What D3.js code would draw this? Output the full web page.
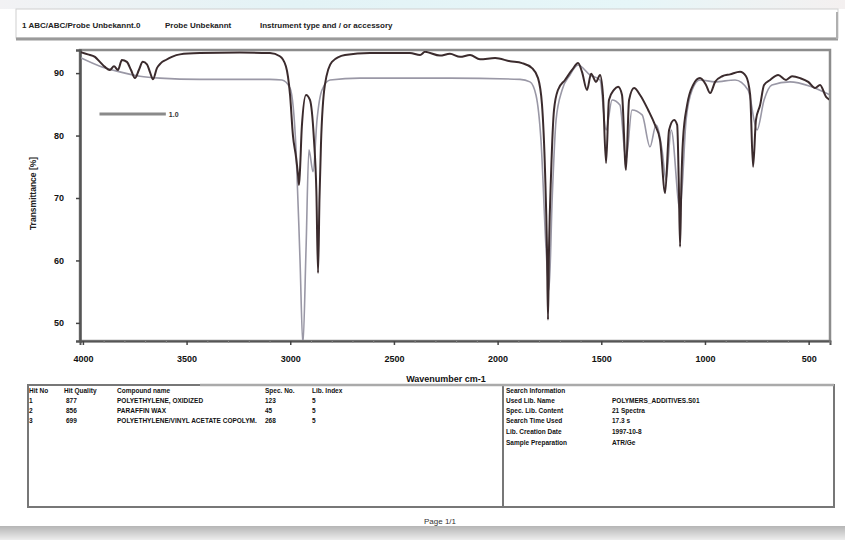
<!DOCTYPE html>
<html>
<head>
<meta charset="utf-8">
<script src="https://cdn.jsdelivr.net/npm/d3@7"></script>
<style>
  html, body { margin: 0; padding: 0; background: #fff; }
  svg { display: block; font-family: "Liberation Sans", "DejaVu Sans", sans-serif; }
</style>
</head>
<body>
<svg id="chart" width="845" height="540"></svg>
<script>
// ---- Spectrum data: [wavenumber cm-1, transmittance %] ----
const sampleSpectrum = [
  [4014, 93.4], [3976, 93.0], [3942, 92.6], [3918, 91.8], [3894, 91.0], [3870, 90.5],
  [3850, 91.1], [3831, 90.5], [3812, 92.1], [3788, 91.8], [3768, 90.5], [3749, 89.2],
  [3730, 90.5], [3711, 91.8], [3691, 91.4], [3677, 90.2], [3662, 89.0], [3643, 90.8],
  [3624, 91.6], [3600, 92.1], [3571, 92.6], [3532, 93.0], [3436, 93.2], [3243, 93.3],
  [3098, 93.2], [3050, 92.7], [3021, 91.1], [3001, 86.5], [2987, 80.0], [2972, 76.5],
  [2962, 73.5], [2958, 72.1], [2953, 74.5], [2944, 81.5], [2924, 86.5], [2905, 85.7],
  [2886, 79.5], [2874, 71.0], [2866, 58.0], [2859, 70.0], [2852, 78.5], [2833, 88.1],
  [2799, 91.8], [2736, 92.9], [2616, 93.2], [2423, 93.2],
  [2374, 92.9], [2350, 93.4], [2278, 92.8], [2230, 93.1], [2181, 92.6], [2133, 92.9],
  [2085, 92.2], [2012, 92.4], [1940, 91.9], [1882, 91.6], [1834, 90.8], [1805, 89.2],
  [1786, 85.0], [1771, 74.0], [1762, 62.0], [1757, 50.5], [1752, 62.0], [1742, 74.0],
  [1728, 84.1], [1709, 87.3],
  [1675, 88.9], [1641, 90.5], [1612, 91.6], [1593, 90.2], [1569, 87.3], [1549, 89.9],
  [1525, 88.6], [1506, 89.7], [1492, 86.5], [1477, 75.6], [1463, 85.7], [1439, 87.3],
  [1419, 87.8], [1400, 86.5], [1381, 74.5], [1366, 85.7], [1342, 87.6], [1313, 86.5],
  [1274, 84.1], [1241, 81.7], [1217, 79.3], [1192, 70.8], [1173, 80.9], [1149, 82.5],
  [1134, 81.7], [1126, 72.0], [1120, 62.2], [1114, 72.0], [1106, 79.3], [1086, 84.9],
  [1057, 88.1], [1024, 89.2],
  [995, 88.1], [975, 86.8], [951, 88.6], [917, 89.5], [879, 89.8], [831, 90.2],
  [802, 89.5], [782, 86.5], [768, 75.0], [754, 82.5], [734, 84.9], [715, 88.1],
  [686, 88.9], [647, 89.7], [609, 88.9], [580, 89.5], [541, 89.2], [502, 88.6],
  [469, 87.6], [445, 88.1], [416, 86.2], [397, 85.7]
];

const referenceSpectrum = [
  [4014, 92.5], [3918, 91.1], [3822, 90.2], [3725, 89.5], [3629, 89.2], [3436, 89.0],
  [3098, 89.0], [3040, 88.9], [3001, 87.6], [2972, 77.7], [2953, 60.1], [2939, 46.5],
  [2924, 61.7], [2910, 77.7], [2890, 74.2], [2871, 82.5], [2847, 87.3], [2808, 88.9],
  [2664, 89.2], [2230, 89.2], [1892, 89.0], [1844, 88.6], [1815, 86.5], [1791, 79.3],
  [1766, 61.7], [1752, 55.3], [1737, 69.7], [1718, 82.5], [1689, 87.3], [1651, 89.7],
  [1612, 91.3], [1554, 89.7], [1506, 88.9], [1477, 80.9], [1448, 85.7], [1410, 84.9],
  [1381, 76.1], [1352, 84.1], [1303, 83.3], [1265, 78.2], [1236, 81.7], [1207, 77.7],
  [1188, 72.9], [1163, 80.9], [1120, 68.1], [1091, 82.5], [1062, 87.3], [1024, 88.9],
  [951, 88.6], [855, 88.9], [792, 87.3], [749, 80.9], [715, 85.7], [677, 88.1],
  [590, 88.6], [493, 87.9], [397, 86.5]
];

const xTicks = [4000, 3500, 3000, 2500, 2000, 1500, 1000, 500];
const yTicks = [90, 80, 70, 60, 50];

const headerTexts = ["1 ABC/ABC/Probe Unbekannt.0", "Probe Unbekannt", "Instrument type and / or accessory"];

const hitColumns = ["Hit No", "Hit Quality", "Compound name", "Spec. No.", "Lib. Index"];
const hitNumbers = ["1", "2", "3"];
const hitQuality = ["877", "856", "699"];
const hitNames = ["POLYETHYLENE, OXIDIZED", "PARAFFIN WAX", "POLYETHYLENE/VINYL ACETATE COPOLYM."];
const hitSpecNo = ["123", "45", "268"];
const hitLibIndex = ["5", "5", "5"];

const searchTitle = "Search Information";
const searchLabels = ["Used Lib. Name", "Spec. Lib. Content", "Search Time Used", "Lib. Creation Date", "Sample Preparation"];
const searchValues = ["POLYMERS_ADDITIVES.S01", "21 Spectra", "17.3 s", "1997-10-8", "ATR/Ge"];

// ---- Layout ----
const svg = d3.select("#chart");
const plot = { left: 80, right: 830, top: 50, bottom: 341 };

// page decorations: top edge tint, bottom shadow band
const defs = svg.append("defs");
const topGrad = defs.append("linearGradient").attr("id", "topTint").attr("x1", 0).attr("x2", 1);
topGrad.append("stop").attr("offset", "0%").attr("stop-color", "#f2f2f4");
topGrad.append("stop").attr("offset", "35%").attr("stop-color", "#e3f3f6");
topGrad.append("stop").attr("offset", "75%").attr("stop-color", "#e6f6f8");
topGrad.append("stop").attr("offset", "100%").attr("stop-color", "#f4f0f0");
svg.append("rect").attr("x", 0).attr("y", 0).attr("width", 845).attr("height", 9).attr("fill", "url(#topTint)");

const botGrad = defs.append("linearGradient").attr("id", "botBand").attr("x1", 0).attr("x2", 0).attr("y1", 0).attr("y2", 1);
botGrad.append("stop").attr("offset", "0%").attr("stop-color", "#b5b5b5");
botGrad.append("stop").attr("offset", "100%").attr("stop-color", "#ededed");
svg.append("rect").attr("x", 0).attr("y", 526).attr("width", 845).attr("height", 14).attr("fill", "url(#botBand)");

// ---- Header bar ----
svg.append("rect").attr("x", 16).attr("y", 9).attr("width", 822).attr("height", 29)
  .attr("fill", "#fff").attr("stroke", "#d0d0d0").attr("stroke-width", 1);
svg.append("line").attr("x1", 16).attr("x2", 838).attr("y1", 39).attr("y2", 39)
  .attr("stroke", "#9a9a9a").attr("stroke-width", 3);
svg.append("line").attr("x1", 837).attr("x2", 837).attr("y1", 12).attr("y2", 39)
  .attr("stroke", "#b0b0b0").attr("stroke-width", 2);
const headerX = [22, 165, 260];
svg.selectAll("text.hdr").data(headerTexts).join("text")
  .attr("class", "hdr")
  .attr("x", (d, i) => headerX[i]).attr("y", 28)
  .attr("font-size", 8).attr("font-weight", "bold").attr("fill", "#222")
  .text(d => d);

// ---- Scales ----
const x = d3.scaleLinear().domain([4014, 397]).range([plot.left, plot.right]);
const y = d3.scaleLinear().domain([47.1, 93.7]).range([plot.bottom, plot.top]);

// plot frame
svg.append("rect").attr("x", plot.left).attr("y", plot.top)
  .attr("width", plot.right - plot.left).attr("height", plot.bottom - plot.top)
  .attr("fill", "#fff").attr("stroke", "#8c8c8c").attr("stroke-width", 2.5);

defs.append("clipPath").attr("id", "plotClip").append("rect")
  .attr("x", plot.left + 1).attr("y", plot.top + 1)
  .attr("width", plot.right - plot.left - 2).attr("height", plot.bottom - plot.top - 2);

// ---- Axes ----
const xAxis = d3.axisBottom(x).tickValues(xTicks).tickSize(4).tickPadding(11).tickFormat(d3.format("d"));
const gx = svg.append("g").attr("transform", `translate(0,${plot.bottom})`).call(xAxis);
gx.select(".domain").attr("stroke", "#555").attr("stroke-width", 2);
gx.selectAll(".tick line").attr("stroke", "#444").attr("stroke-width", 1.5);
gx.selectAll(".tick text").attr("font-size", 9).attr("font-weight", "bold").attr("fill", "#111")
  .attr("font-family", "Liberation Sans, sans-serif");

// minor x ticks
const xMinor = d3.axisBottom(x).tickValues(d3.range(4000, 399, -100).filter(v => v % 500 !== 0))
  .tickSize(2).tickFormat("");
const gxm = svg.append("g").attr("transform", `translate(0,${plot.bottom})`).call(xMinor);
gxm.select(".domain").remove();
gxm.selectAll(".tick line").attr("stroke", "#888");

const yAxis = d3.axisLeft(y).tickValues(yTicks).tickSize(4).tickPadding(12).tickFormat(d3.format("d"));
const gy = svg.append("g").attr("transform", `translate(${plot.left},0)`).call(yAxis);
gy.select(".domain").attr("stroke", "#555").attr("stroke-width", 2.5);
gy.selectAll(".tick line").attr("stroke", "#444").attr("stroke-width", 1.5);
gy.selectAll(".tick text").attr("font-size", 9).attr("font-weight", "bold").attr("fill", "#111")
  .attr("font-family", "Liberation Sans, sans-serif");

// axis titles
svg.append("text")
  .attr("transform", `translate(36,${(plot.top + plot.bottom) / 2 - 2}) rotate(-90)`)
  .attr("text-anchor", "middle").attr("font-size", 8.5).attr("font-weight", "bold").attr("fill", "#222")
  .text("Transmittance [%]");
svg.append("text")
  .attr("x", 446).attr("y", 382).attr("text-anchor", "middle")
  .attr("font-size", 9).attr("font-weight", "bold").attr("fill", "#111")
  .text("Wavenumber cm-1");

// ---- Spectra ----
const line = d3.line().x(d => x(d[0])).y(d => y(d[1])).curve(d3.curveMonotoneX);
const traces = svg.append("g").attr("clip-path", "url(#plotClip)");

traces.append("path").datum(referenceSpectrum)
  .attr("d", line).attr("fill", "none")
  .attr("stroke", "#9a98a6").attr("stroke-width", 1.6);

traces.append("path").datum(sampleSpectrum)
  .attr("d", line).attr("fill", "none")
  .attr("stroke", "#3b2b2d").attr("stroke-width", 2);

// legend line for the reference trace
svg.append("line").attr("x1", x(3920)).attr("x2", x(3600)).attr("y1", 114).attr("y2", 114)
  .attr("stroke", "#8a8a8a").attr("stroke-width", 3);
svg.append("text").attr("x", x(3600) + 3).attr("y", 117)
  .attr("font-size", 7).attr("font-weight", "bold").attr("fill", "#333").text("1.0");

// ---- Search result table ----
const tbl = svg.append("g");
tbl.append("rect").attr("x", 28).attr("y", 385).attr("width", 475).attr("height", 122)
  .attr("fill", "#fff").attr("stroke", "#777").attr("stroke-width", 2);
tbl.append("rect").attr("x", 503).attr("y", 385).attr("width", 331).attr("height", 122)
  .attr("fill", "#fff").attr("stroke", "#777").attr("stroke-width", 2);
tbl.append("line").attr("x1", 200).attr("x2", 834).attr("y1", 385).attr("y2", 385)
  .attr("stroke", "#aaa").attr("stroke-width", 2.5);

const colX = [29, 64, 117, 265, 312];
tbl.selectAll("text.col").data(hitColumns).join("text")
  .attr("class", "col").attr("x", (d, i) => colX[i]).attr("y", 393)
  .attr("font-size", 6.5).attr("font-weight", "bold").attr("fill", "#111").text(d => d);

const rows = hitNumbers.map((n, i) => [n, hitQuality[i], hitNames[i], hitSpecNo[i], hitLibIndex[i]]);
rows.forEach((r, ri) => {
  tbl.selectAll(`text.row${ri}`).data(r).join("text")
    .attr("class", `row${ri}`).attr("x", (d, i) => colX[i] + (i === 1 ? 2 : 0))
    .attr("y", 403 + ri * 10)
    .attr("font-size", 6.5).attr("font-weight", "bold").attr("fill", "#111").text(d => d);
});

tbl.append("text").attr("x", 506).attr("y", 393)
  .attr("font-size", 6.5).attr("font-weight", "bold").attr("fill", "#111").text(searchTitle);
const infoY = [403, 413, 423, 434, 445];
searchLabels.forEach((lab, i) => {
  tbl.append("text").attr("x", 506).attr("y", infoY[i])
    .attr("font-size", 6.5).attr("font-weight", "bold").attr("fill", "#111").text(lab);
  tbl.append("text").attr("x", 612).attr("y", infoY[i])
    .attr("font-size", 6.5).attr("font-weight", "bold").attr("fill", "#111").text(searchValues[i]);
});

// page footer
svg.append("text").attr("x", 440).attr("y", 524).attr("text-anchor", "middle")
  .attr("font-size", 8).attr("fill", "#333").text("Page 1/1");
</script>
</body>
</html>
